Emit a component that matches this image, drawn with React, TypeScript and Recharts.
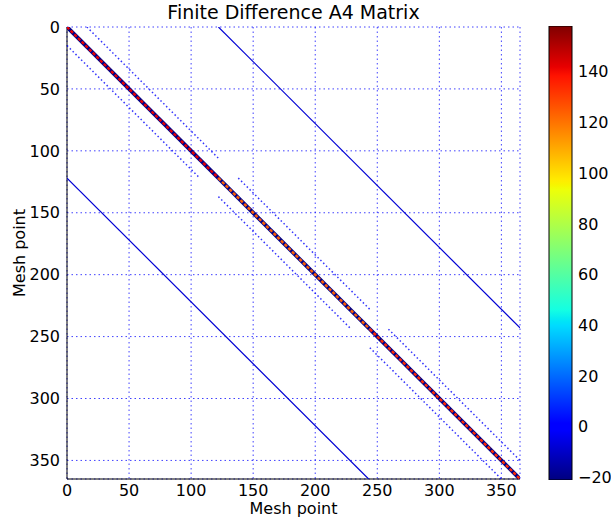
import React from "react";
import { ScatterChart, Scatter, XAxis, YAxis, CartesianGrid, BarChart, Bar } from "recharts";

// axis ticks (mesh point index)
const meshTicks = [0, 50, 100, 150, 200, 250, 300, 350];
const meshDomain = [0, 365];

// three diagonal blocks of the matrix
const blockStart = [0, 122, 244];
const blockEnd = [122, 244, 365];
const diagonalValue = [142, 124, 134];
const offDiagonalValue = -20;

// long coupling diagonals (offset about 122)
const farUpper = [{ x: 122, y: 0 }, { x: 365, y: 243 }];
const farLower = [{ x: 0, y: 122 }, { x: 243, y: 365 }];
const farValue = -8;

// dotted bands inside every block
const upperBands = [
  [{ x: 16, y: 0 }, { x: 122, y: 106 }],
  [{ x: 138, y: 122 }, { x: 244, y: 228 }],
  [{ x: 259, y: 244 }, { x: 365, y: 350 }],
];
const lowerBands = [
  [{ x: 0, y: 15 }, { x: 107, y: 122 }],
  [{ x: 122, y: 137 }, { x: 229, y: 244 }],
  [{ x: 244, y: 259 }, { x: 350, y: 365 }],
];
const bandValue = -2;

// colorbar
const colorbarTicks = [-20, 0, 20, 40, 60, 80, 100, 120, 140];
const colorbarRange = [-21, 158];
const colorbarData = [{ name: "cb", range: colorbarRange }];

// matplotlib "jet" colormap
const jetPos = [0, 0.11, 0.125, 0.34, 0.35, 0.375, 0.64, 0.65, 0.66, 0.89, 0.91, 1];
const jetColors = ["#000080", "#0000ff", "#0000ff", "#00dbff", "#00e5f7", "#14ffe2", "#eeff08", "#f7f500", "#ffec00", "#ff1300", "#e80000", "#800000"];

const FONT = "'DejaVu Sans', Verdana, sans-serif";

function rgb(h: string) {
  return [parseInt(h.slice(1, 3), 16), parseInt(h.slice(3, 5), 16), parseInt(h.slice(5, 7), 16)];
}

function jet(v: number) {
  const t = Math.min(1, Math.max(0, (v - colorbarRange[0]) / (colorbarRange[1] - colorbarRange[0])));
  for (let i = 1; i < jetPos.length; i++) {
    if (t <= jetPos[i]) {
      const f = (t - jetPos[i - 1]) / (jetPos[i] - jetPos[i - 1] || 1);
      const a = rgb(jetColors[i - 1]);
      const b = rgb(jetColors[i]);
      const c = a.map((ch, k) => Math.round(ch + (b[k] - ch) * f));
      return `rgb(${c[0]},${c[1]},${c[2]})`;
    }
  }
  return jetColors[jetColors.length - 1];
}

const noDot = () => <g />;

const minus = (v: number) => (v < 0 ? "\u2212" + Math.abs(v) : String(v));

const tickStyle = { fill: "#000", fontSize: 16, fontFamily: FONT };

function YLabel(props: any) {
  const vb = props.viewBox || { y: 27, height: 452 };
  const cy = vb.y + vb.height / 2;
  return (
    <text x={25} y={cy} transform={`rotate(-90 25 ${cy})`} textAnchor="middle" fontSize={16} fontFamily={FONT} fill="#000">
      Mesh point
    </text>
  );
}

function ColorbarRect(props: any) {
  const { x, y, width, height } = props;
  return (
    <g>
      <defs>
        <linearGradient id="jetGrad" x1="0" y1="1" x2="0" y2="0">
          {jetPos.map((p, i) => (
            <stop key={i} offset={p} stopColor={jetColors[i]} />
          ))}
        </linearGradient>
      </defs>
      <rect x={x} y={y} width={width} height={height} fill="url(#jetGrad)" stroke="#000" strokeWidth={1} />
    </g>
  );
}

export default function App() {
  return (
    <div style={{ position: "absolute", left: 0, top: 0, width: 611, height: 525, background: "#fff", fontFamily: FONT }}>
      <div
        style={{
          position: "absolute",
          left: 67,
          top: 1,
          width: 453,
          height: 22,
          lineHeight: "22px",
          textAlign: "center",
          fontSize: 19,
          color: "#000",
        }}
      >
        Finite Difference A4 Matrix
      </div>

      <div style={{ position: "absolute", left: 0, top: 0 }}>
        <ScatterChart width={540} height={525} margin={{ top: 27, right: 20, bottom: 0, left: 12 }}>
          <CartesianGrid stroke="#0000ff" strokeOpacity={0.75} strokeDasharray="1.5 3" />
          <XAxis
            type="number"
            dataKey="x"
            domain={meshDomain}
            ticks={meshTicks}
            allowDataOverflow
            height={46}
            tickLine={false}
            tickSize={0}
            tickMargin={6}
            axisLine={{ stroke: "#000" }}
            tick={tickStyle}
            label={{ value: "Mesh point", position: "insideBottom", offset: 11, fontSize: 16, fontFamily: FONT, fill: "#000" }}
          />
          <YAxis
            type="number"
            dataKey="y"
            domain={meshDomain}
            ticks={meshTicks}
            reversed
            allowDataOverflow
            width={55}
            tickLine={false}
            tickSize={0}
            tickMargin={7}
            axisLine={{ stroke: "#000" }}
            tick={tickStyle}
            label={{ content: <YLabel /> }}
          />
          <XAxis xAxisId="top" orientation="top" type="number" domain={meshDomain} ticks={meshTicks} allowDataOverflow mirror height={0} tick={false} tickSize={5} tickLine={{ stroke: "#000" }} axisLine={{ stroke: "#000" }} />
          <XAxis xAxisId="bot" orientation="bottom" type="number" domain={meshDomain} ticks={meshTicks} allowDataOverflow mirror height={0} tick={false} tickSize={5} tickLine={{ stroke: "#000" }} axisLine={false} />
          <YAxis yAxisId="right" orientation="right" type="number" domain={meshDomain} ticks={meshTicks} reversed allowDataOverflow mirror width={0} tick={false} tickSize={5} tickLine={{ stroke: "#000" }} axisLine={{ stroke: "#000" }} />
          <YAxis yAxisId="left" orientation="left" type="number" domain={meshDomain} ticks={meshTicks} reversed allowDataOverflow mirror width={0} tick={false} tickSize={5} tickLine={{ stroke: "#000" }} axisLine={false} />

          <Scatter data={farUpper} shape={noDot} line={{ stroke: jet(farValue), strokeWidth: 1.2 }} isAnimationActive={false} />
          <Scatter data={farLower} shape={noDot} line={{ stroke: jet(farValue), strokeWidth: 1.2 }} isAnimationActive={false} />

          {upperBands.map((seg, i) => (
            <Scatter key={`u${i}`} data={seg} shape={noDot} line={{ stroke: jet(bandValue), strokeWidth: 1.5, strokeDasharray: "1.5 2.5", strokeOpacity: 0.8 }} isAnimationActive={false} />
          ))}
          {lowerBands.map((seg, i) => (
            <Scatter key={`l${i}`} data={seg} shape={noDot} line={{ stroke: jet(bandValue), strokeWidth: 1.5, strokeDasharray: "1.5 2.5", strokeOpacity: 0.8 }} isAnimationActive={false} />
          ))}

          {blockStart.map((s, i) => (
            <Scatter
              key={`d${i}`}
              data={[{ x: s, y: s }, { x: blockEnd[i], y: blockEnd[i] }]}
              shape={noDot}
              line={{ stroke: jet(offDiagonalValue), strokeWidth: 4 }}
              isAnimationActive={false}
            />
          ))}
          {blockStart.map((s, i) => (
            <Scatter
              key={`v${i}`}
              data={[{ x: s, y: s }, { x: blockEnd[i], y: blockEnd[i] }]}
              shape={noDot}
              line={{ stroke: jet(diagonalValue[i]), strokeWidth: 2.4, strokeDasharray: "3.2 2" }}
              isAnimationActive={false}
            />
          ))}
        </ScatterChart>
      </div>

      <div style={{ position: "absolute", left: 520, top: 0 }}>
        <BarChart width={91} height={525} data={colorbarData} barCategoryGap={0} margin={{ top: 26, right: 0, bottom: 45, left: 29 }}>
          <XAxis dataKey="name" hide />
          <YAxis
            orientation="right"
            type="number"
            domain={colorbarRange}
            ticks={colorbarTicks}
            allowDataOverflow
            width={39}
            tickLine={false}
            tickSize={0}
            tickMargin={6}
            axisLine={false}
            tick={tickStyle}
            tickFormatter={minus}
          />
          <YAxis yAxisId="cbm" orientation="right" type="number" domain={colorbarRange} ticks={colorbarTicks} allowDataOverflow mirror width={0} tick={false} tickSize={5} tickLine={{ stroke: "#000" }} axisLine={false} />
          <Bar dataKey="range" shape={<ColorbarRect />} isAnimationActive={false} />
        </BarChart>
      </div>
    </div>
  );
}
